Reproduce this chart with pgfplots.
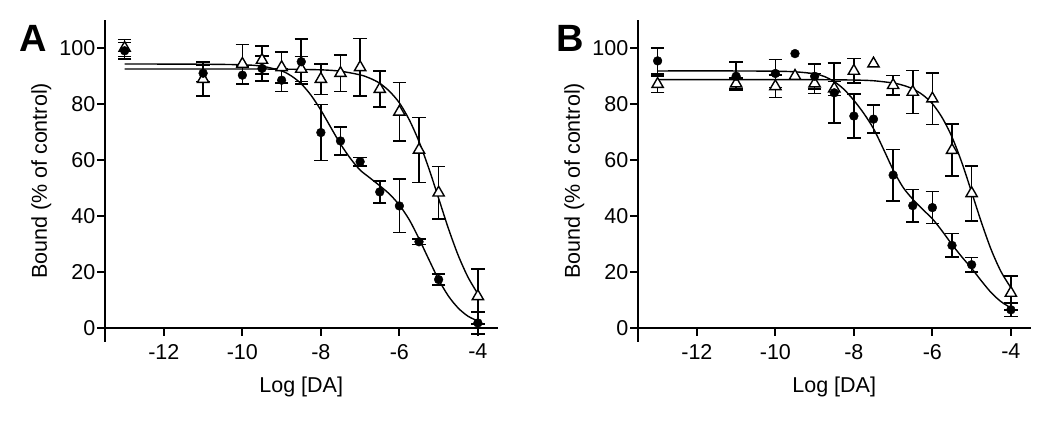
\documentclass[border=0pt]{standalone}
\usepackage{fontspec}
\setmainfont{Liberation Sans}
\usepackage{pgfplots}
\usepackage{pgfplotstable}
\pgfplotsset{compat=1.18}

% Panel A
\pgfplotstableread{
x y e
-13 100 3
-11 88.9 6
-10 94.3 7
-9.5 95.7 5
-9 93.1 5.5
-8.5 92.5 4.5
-8 88.9 5.5
-7.5 91 6.5
-7 93.1 10.3
-6.5 85.3 6.4
-6 77.2 10.5
-5.5 63.6 11.6
-5 48.3 9.4
-4 11.3 9.8
}\triA
\pgfplotstableread{
x y e
-13 99 3
-11 91 3
-10 90.3 3.2
-9.5 92.7 4.5
-9 88.5 4
-8.5 95.1 8
-8 69.8 10
-7.5 66.8 5
-7 59.4 1.5
-6.5 48.6 4
-6 43.6 9.5
-5.5 30.8 1
-5 17.3 2
-4 1.8 4
}\cirA
\pgfplotstableread{
x y
-13 92.5
-11 92.5
-10 92.5
-9 92.45
-8 92.2
-7.5 91.7
-7 90.4
-6.75 89.2
-6.5 87.4
-6.25 84.5
-6 80.4
-5.75 74.4
-5.5 66.6
-5.25 57.0
-5 46.3
-4.75 35.5
-4.5 25.9
-4.25 18.1
-4 12.2
}\fitTriA
\pgfplotstableread{
x y
-13 94.3
-11 94.2
-10 94.0
-9.5 93.5
-9 91.8
-8.75 90.0
-8.5 87.2
-8.25 83.1
-8 77.8
-7.75 71.7
-7.5 65.7
-7.25 60.6
-7 56.4
-6.75 53.6
-6.5 50.8
-6.25 47.8
-6 43.9
-5.75 38.7
-5.5 31.9
-5.25 24.5
-5 17.3
-4.75 11.4
-4.5 7.1
-4.25 4.2
-4 2.5
}\fitCirA

% Panel B
\pgfplotstableread{
x y e
-13 87.1 3
-11 87.3 2
-10 86.3 4
-9 87.3 3.6
-8.5 85.5 2.5
-8 91.8 4.4
-7 86.7 3.5
-6.5 84.3 7.7
-6 81.9 9.2
-5.5 63.5 9.3
-5 48.1 9.8
-4 12.5 6
}\triB
\pgfplotstableread{
x y
-9.5 90.0
-7.5 94.4
}\triBnoerr
\pgfplotstableread{
x y e
-13 95.4 4.7
-11 89.9 5
-10 90.9 5
-9 89.9 4.5
-8.5 84.0 10.7
-8 75.7 7.8
-7.5 74.6 5
-7 54.6 9.2
-6.5 43.7 5.8
-6 43.0 5.7
-5.5 29.5 4.2
-5 22.6 2.6
-4 6.5 2.4
}\cirB
\pgfplotstableread{
x y
-9.5 98.0
}\cirBnoerr
\pgfplotstableread{
x y
-13 88.7
-11 88.7
-10 88.7
-9 88.7
-8 88.55
-7.5 88.3
-7 87.5
-6.75 86.7
-6.5 85.4
-6.25 83.3
-6 80.1
-5.75 75.1
-5.5 68.2
-5.25 59.1
-5 48.5
-4.75 37.7
-4.5 27.9
-4.25 20.1
-4 14.4
}\fitTriB
\pgfplotstableread{
x y
-13 91.8
-11 91.8
-10 91.7
-9.5 91.5
-9 90.8
-8.75 89.8
-8.5 88.0
-8.25 85.2
-8 81.3
-7.75 76.7
-7.5 71.2
-7.25 64.0
-7 56.5
-6.75 50.3
-6.5 46.0
-6.25 42.4
-6 39.0
-5.75 34.6
-5.5 29.8
-5.25 25.4
-5 21.3
-4.75 16.8
-4.5 12.6
-4.25 9.4
-4 7.2
}\fitCirB

\pgfplotsset{
  panel/.style={
    scale only axis, width=392.5pt, height=322pt,
    xmin=-13.5, xmax=-3.5, ymin=-5, ymax=110,
    axis x line*=middle, axis y line*=left,
    hide obscured x ticks=false, hide obscured y ticks=false,
    axis line style={line width=1.8pt, black},
    tick style={line width=1.8pt, black},
    tick align=outside, major tick length=8pt,
    xtick={-12,-10,-8,-6,-4}, xticklabels={-12,-10,-8,-6,-4},
    ytick={0,20,40,60,80,100}, yticklabels={0,20,40,60,80,100},
    tick label style={font=\fontsize{21.5}{24}\selectfont},
    xticklabel style={inner sep=2pt, yshift=-6pt},
    yticklabel style={inner sep=1.5pt},
    xlabel={Log [DA]}, ylabel={Bound (\% of control)},
    every axis x label/.style={at={(ticklabel cs:0.5)}, anchor=north, font=\fontsize{21.5}{24}\selectfont, yshift=-12pt},
    every axis y label/.style={at={(ticklabel cs:0.5)}, rotate=90, anchor=south, font=\fontsize{21.5}{24}\selectfont, yshift=3pt},
    clip=false,
  },
  fitline/.style={black, line width=1.4pt, smooth, no marks},
  tri/.style={only marks, mark=triangle*, mark size=6.5pt,
    mark options={fill=white, draw=black, line width=1.4pt},
    error bars/.cd, y dir=both, y explicit,
    error bar style={line width=1.7pt, black},
    error mark options={line width=1.7pt, mark size=6.7pt, black, rotate=90}},
  cir/.style={only marks, mark=*, mark size=4.4pt,
    mark options={fill=black, draw=black},
    error bars/.cd, y dir=both, y explicit,
    error bar style={line width=1.7pt, black},
    error mark options={line width=1.7pt, mark size=6.7pt, black, rotate=90}},
}

\begin{document}
\begin{tikzpicture}
\useasboundingbox (0,0) rectangle (1050pt,423pt);
\begin{axis}[panel, at={(105pt,81pt)}, anchor=south west]
  \addplot[fitline] table[x=x,y=y] {\fitTriA};
  \addplot[fitline] table[x=x,y=y] {\fitCirA};
  \addplot[tri] table[x=x,y=y,y error=e] {\triA};
  \addplot[cir] table[x=x,y=y,y error=e] {\cirA};
  \node[font=\fontsize{38}{40}\selectfont\bfseries] at (rel axis cs:-0.183,0.944) {A};
\end{axis}
\begin{axis}[panel, at={(638pt,81pt)}, anchor=south west]
  \addplot[fitline] table[x=x,y=y] {\fitTriB};
  \addplot[fitline] table[x=x,y=y] {\fitCirB};
  \addplot[tri] table[x=x,y=y,y error=e] {\triB};
  \addplot[only marks, mark=triangle*, mark size=6.5pt, mark options={fill=white, draw=black, line width=1.4pt}] table[x=x,y=y] {\triBnoerr};
  \addplot[cir] table[x=x,y=y,y error=e] {\cirB};
  \addplot[only marks, mark=*, mark size=4.4pt, black] table[x=x,y=y] {\cirBnoerr};
  \node[font=\fontsize{38}{40}\selectfont\bfseries] at (rel axis cs:-0.172,0.944) {B};
\end{axis}
\end{tikzpicture}
\end{document}
